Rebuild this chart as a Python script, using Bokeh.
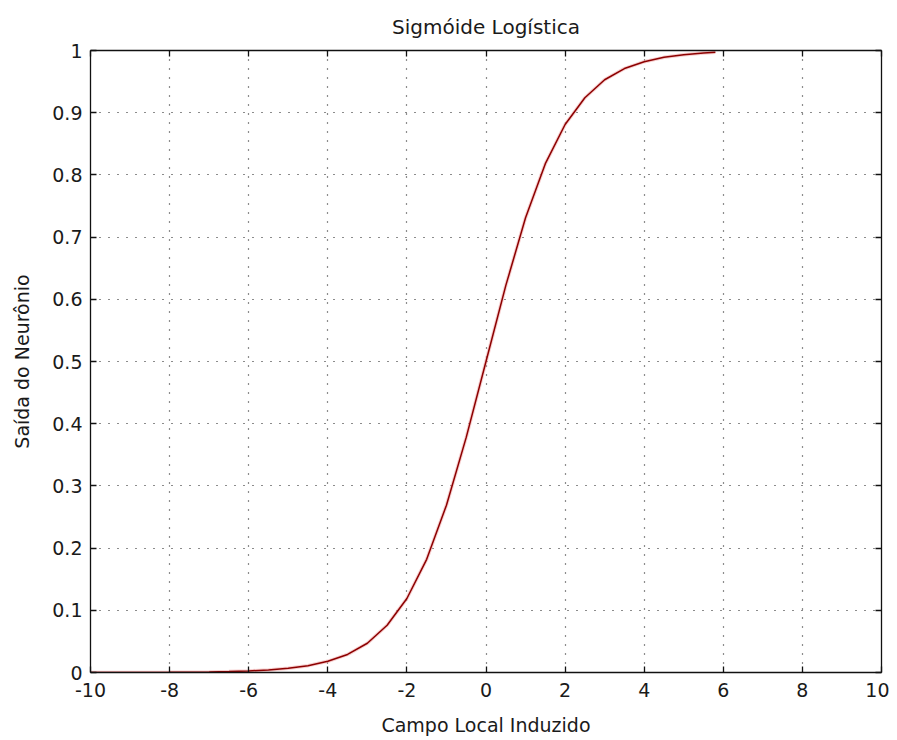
from bokeh.plotting import figure
from bokeh.models import Range1d, FixedTicker, LinearAxis, CustomJSTickFormatter
from bokeh.embed import file_html
from bokeh.resources import INLINE

# Data
x_vals = [-10, -9.5, -9, -8.5, -8, -7.5, -7, -6.5, -6, -5.5, -5, -4.5, -4, -3.5, -3,
          -2.5, -2, -1.5, -1, -0.5, 0, 0.5, 1, 1.5, 2, 2.5, 3, 3.5, 4, 4.5, 5, 5.5, 5.8]
y_vals = [0.0000, 0.0001, 0.0001, 0.0002, 0.0003, 0.0006, 0.0009, 0.0015, 0.0025, 0.0041,
          0.0067, 0.011, 0.018, 0.029, 0.047, 0.076, 0.119, 0.182, 0.269, 0.378, 0.500,
          0.622, 0.731, 0.818, 0.881, 0.924, 0.953, 0.971, 0.982, 0.989, 0.993, 0.996, 0.997]
x_ticks = [-10, -8, -6, -4, -2, 0, 2, 4, 6, 8, 10]
y_ticks = [0, 0.1, 0.2, 0.3, 0.4, 0.5, 0.6, 0.7, 0.8, 0.9, 1]

title_text = "Sigmóide Logística"
x_label = "Campo Local Induzido"
y_label = "Saída do Neurônio"

FONT = "DejaVu Sans"
FS = "19px"

p = figure(frame_width=791, frame_height=622, output_backend="svg", toolbar_location=None,
           x_range=Range1d(-10, 10), y_range=Range1d(0, 1),
           min_border_left=90, min_border_top=50, min_border_right=8, min_border_bottom=66,
           title=title_text)
p.title.align = "center"
p.title.text_font = FONT
p.title.text_font_size = "20px"
p.title.text_font_style = "normal"
p.title.text_color = "#1a1a1a"
p.title.standoff = 23

fmt = CustomJSTickFormatter(code="return tick.toString();")

for ax in (p.xaxis[0], p.yaxis[0]):
    ax.major_tick_in = 6
    ax.major_tick_out = 0
    ax.minor_tick_in = 0
    ax.minor_tick_out = 0
    ax.axis_line_color = "#111111"
    ax.axis_line_width = 1.3
    ax.major_tick_line_color = "#111111"
    ax.major_tick_line_width = 1.3
    ax.major_label_text_font = FONT
    ax.major_label_text_font_size = FS
    ax.major_label_text_color = "#1a1a1a"
    ax.axis_label_text_font = FONT
    ax.axis_label_text_font_size = FS
    ax.axis_label_text_font_style = "normal"
    ax.axis_label_text_color = "#1a1a1a"
    ax.formatter = fmt

p.xaxis[0].ticker = FixedTicker(ticks=x_ticks)
p.yaxis[0].ticker = FixedTicker(ticks=y_ticks)
p.xaxis[0].axis_label = x_label
p.yaxis[0].axis_label = y_label
p.xaxis[0].major_label_standoff = 10
p.yaxis[0].major_label_standoff = 8
p.xaxis[0].axis_label_standoff = 14
p.yaxis[0].axis_label_standoff = 16

for loc, tk in (("right", y_ticks), ("above", x_ticks)):
    ax = LinearAxis(ticker=FixedTicker(ticks=tk))
    ax.major_label_text_font_size = "0px"
    ax.major_tick_in = 6
    ax.major_tick_out = 0
    ax.minor_tick_in = 0
    ax.minor_tick_out = 0
    ax.axis_line_color = "#111111"
    ax.axis_line_width = 1.3
    ax.major_tick_line_color = "#111111"
    ax.major_tick_line_width = 1.3
    ax.major_label_standoff = 0
    p.add_layout(ax, loc)

p.xgrid.ticker = FixedTicker(ticks=x_ticks)
p.ygrid.ticker = FixedTicker(ticks=y_ticks)
for g in (p.xgrid[0], p.ygrid[0]):
    g.grid_line_color = "black"
    g.grid_line_dash = "1 8"
    g.grid_line_width = 1.2
    g.grid_line_alpha = 0.9

p.outline_line_color = None
p.background_fill_color = "white"
p.border_fill_color = "white"

p.line(x_vals, y_vals, line_color="#f0a0a0", line_width=3.5, line_alpha=0.5)
p.line(x_vals, y_vals, line_color="#8c0000", line_width=1.5)

open("out.html", "w").write(file_html(p, INLINE))
